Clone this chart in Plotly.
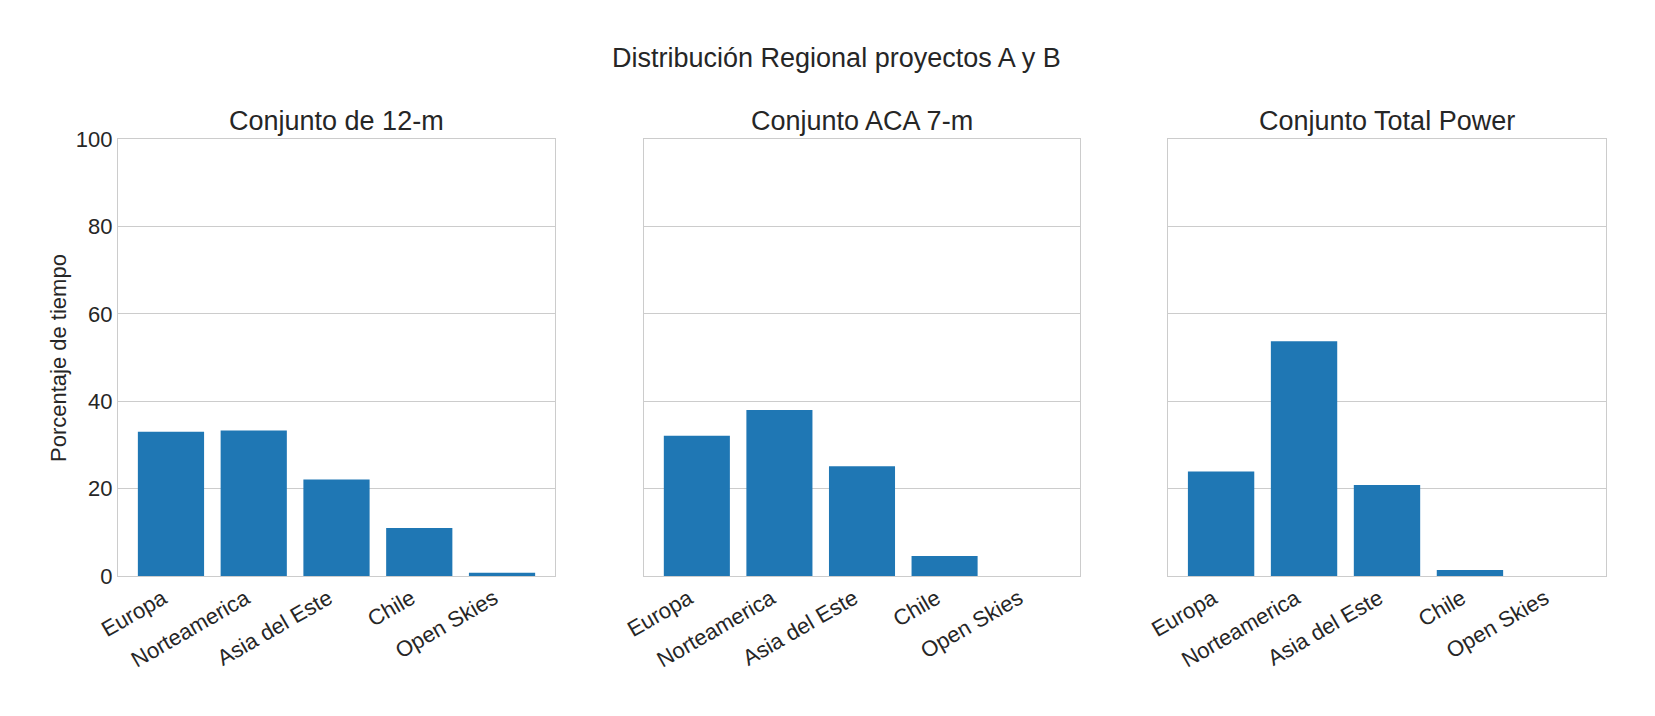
import plotly.graph_objects as go

categories = ["Europa", "Norteamerica", "Asia del Este", "Chile", "Open Skies"]
vals_12m = [33.0, 33.3, 22.1, 11.0, 0.75]
vals_aca = [32.1, 38.0, 25.1, 4.6, 0.0]
vals_tp = [23.9, 53.7, 20.8, 1.4, 0.0]
panel_titles = ["Conjunto de 12-m", "Conjunto ACA 7-m", "Conjunto Total Power"]
main_title = "Distribución Regional proyectos A y B"
y_label = "Porcentaje de tiempo"
y_ticks = [0, 20, 40, 60, 80, 100]

W, H = 1655, 716
FONT = "Liberation Sans, Arial, sans-serif"
TXT = "#262626"
GRID = "#cccccc"
BAR = "#1f77b4"

x_px = [(118, 555), (644, 1080), (1168, 1606)]
y_top, y_bot = 139, 576
ydom = [1 - y_bot / H, 1 - y_top / H]

fig = go.Figure()
series = [vals_12m, vals_aca, vals_tp]
for i, vals in enumerate(series):
    xa = "x" if i == 0 else f"x{i+1}"
    ya = "y" if i == 0 else f"y{i+1}"
    fig.add_trace(go.Bar(x=categories, y=vals, width=0.8, marker=dict(color=BAR, line=dict(width=0)),
                         xaxis=xa, yaxis=ya, showlegend=False))

layout = dict(
    width=W, height=H,
    margin=dict(l=0, r=0, t=0, b=0),
    paper_bgcolor="white", plot_bgcolor="white",
    font=dict(family=FONT, color=TXT, size=22),
    bargap=0.2,
)
annotations = [dict(text=main_title, x=836 / W, y=1 - 58 / H, xref="paper", yref="paper",
                    xanchor="center", yanchor="middle", showarrow=False,
                    font=dict(size=27, family=FONT, color=TXT))]
for i in range(3):
    sfx = "" if i == 0 else str(i + 1)
    x0, x1 = x_px[i]
    layout[f"xaxis{sfx}"] = dict(
        domain=[x0 / W, x1 / W], anchor=f"y{sfx}", type="category",
        range=[-0.64, 4.64], showgrid=False, showline=True, mirror=True,
        linecolor=GRID, linewidth=1.3, tickangle=-30, ticks="",
        ticklabelshift=-8,
        tickfont=dict(size=22, family=FONT, color=TXT), automargin=False,
    )
    layout[f"yaxis{sfx}"] = dict(
        domain=ydom, anchor=f"x{sfx}", range=[0, 100], tickvals=y_ticks,
        showgrid=True, gridcolor=GRID, gridwidth=1, zeroline=False,
        showline=True, mirror=True, linecolor=GRID, linewidth=1.3,
        showticklabels=(i == 0), ticks="",
        tickfont=dict(size=22, family=FONT, color=TXT), automargin=False,
    )
    annotations.append(dict(text=panel_titles[i], x=(x0 + x1) / 2 / W, y=1 - 121 / H,
                            xref="paper", yref="paper", xanchor="center", yanchor="middle",
                            showarrow=False, font=dict(size=27, family=FONT, color=TXT)))
annotations.append(dict(text=y_label, x=58 / W, y=1 - 358 / H, xref="paper", yref="paper",
                        xanchor="center", yanchor="middle", textangle=-90, showarrow=False,
                        font=dict(size=22, family=FONT, color=TXT)))
layout["annotations"] = annotations
fig.update_layout(**layout)
fig.write_html("out.html")
